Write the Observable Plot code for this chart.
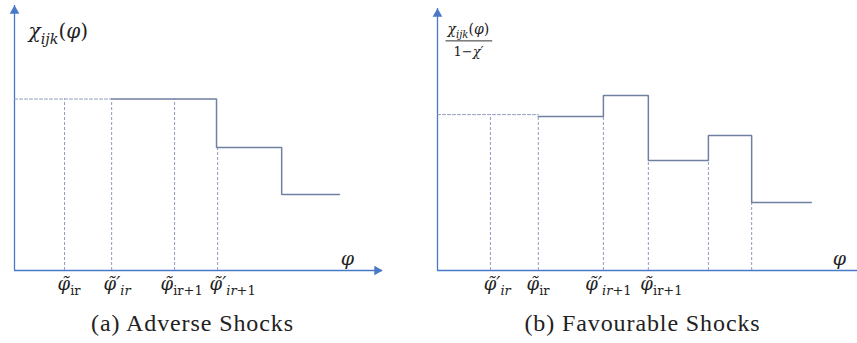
<!DOCTYPE html>
<html><head><meta charset="utf-8">
<script src="https://cdn.jsdelivr.net/npm/d3@7"></script>
<script src="https://cdn.jsdelivr.net/npm/@observablehq/plot@0.6"></script>
<style>
body{margin:0;background:#fff;}
#wrap{display:flex;width:857px;height:343px;overflow:hidden;}
#wrap svg{display:block;}
</style></head><body><div id="wrap"></div>
<script>
// ---------- Data (conceptual units, 0–100 on each axis) ----------
// Panel (a): Adverse shocks
const aBreaks = [0, 26.4, 54.9, 72.6, 88.3];      // where each level starts (last = end of line)
const aLevels = [64.7, 64.7, 46.4, 28.7];         // first level is drawn dashed
const aDashX = [13.6, 26.4, 43.5, 55.2];          // dashed guide positions
const aTickX = [11.7, 24.2, 39.7, 53.0];          // tick label positions
const aTickLabels = ["φ̃_[ir]", "φ̃′_{ir}", "φ̃_[ir+1]", "φ̃′_{ir}_[+1]"];
const aYLabel = "χ_{ijk}[(]φ[)]";
const aCaption = "(a) Adverse Shocks";

// Panel (b): Favourable shocks
const bBreaks = [0, 24.0, 39.5, 50.2, 64.5, 74.8, 89.0];
const bLevels = [59.5, 58.8, 66.8, 42.0, 51.5, 26.0];
const bDashX = [12.6, 24.0, 39.5, 50.2, 64.5, 74.8];
const bTickX = [11.0, 21.2, 35.2, 48.3];
const bTickLabels = ["φ̃′_{ir}", "φ̃_[ir]", "φ̃′_{ir}_[+1]", "φ̃_[ir+1]"];
const bYNum = "χ_{ijk}[(]φ[)]";
const bYDen = "[1−]χ′";
const bCaption = "(b) Favourable Shocks";

const xAxisLabel = "φ";

// ---------- Styles ----------
const AXIS = "#4a78c8";
const STEP = "#7080a2";
const DASH = "#8e9cc0";
const MATH = "DejaVu Serif";
const CAPF = "Liberation Serif";

function topAt(x, breaks, levels) {
  for (let i = 1; i < breaks.length - 1; i++) {
    if (Math.abs(x - breaks[i]) < 0.7) return Math.min(levels[i - 1], levels[i]);
  }
  for (let i = 0; i < levels.length; i++) {
    if (x >= breaks[i] && x < breaks[i + 1]) return levels[i];
  }
  return levels[levels.length - 1];
}

function panel(o) {
  const {breaks, levels} = o;
  const dashedStart = [{x: breaks[0], y: levels[0]}, {x: breaks[1], y: levels[0]}];
  const solid = levels.slice(1).map((v, i) => ({x: breaks[i + 1], y: v}));
  solid.push({x: breaks[breaks.length - 1], y: levels[levels.length - 1]});

  const marks = [
    Plot.ruleX([0], {y1: 0, y2: 100, stroke: AXIS, strokeWidth: 1.3}),
    Plot.ruleY([0], {x1: 0, x2: 100, stroke: AXIS, strokeWidth: 1.3}),
    Plot.dot([0], {x: d => d, y: () => 100, symbol: "triangle", r: 3.6, fill: AXIS, stroke: "none", dy: 5.4}),
    Plot.ruleX(o.dashX, {x: d => d, y1: () => 0, y2: d => topAt(d, breaks, levels), stroke: DASH, strokeWidth: 1, strokeDasharray: "3,2"}),
    Plot.line(dashedStart, {x: "x", y: "y", stroke: DASH, strokeWidth: 1, strokeDasharray: "3,2"}),
    Plot.line(solid, {x: "x", y: "y", curve: "step-after", stroke: STEP, strokeWidth: 1.5, strokeLinejoin: "miter"}),
    Plot.text(o.tickLabels, {x: (d, i) => o.tickX[i], y: () => 0, text: d => d, dy: 19, lineAnchor: "bottom", textAnchor: "start", fontFamily: MATH, fontSize: 18, fill: "#222"}),
    Plot.text([xAxisLabel], {frameAnchor: "bottom-right", text: d => d, dx: o.phiDx, dy: -12, lineAnchor: "middle", textAnchor: "middle", fontFamily: MATH, fontStyle: "italic", fontSize: 19, fill: "#222"}),
    Plot.text([o.caption], {frameAnchor: "bottom", text: d => d, dx: o.capDx, dy: 53, lineAnchor: "middle", textAnchor: "middle", fontFamily: CAPF, fontSize: 24, fill: "#222"})
  ];
  if (o.arrowX) marks.push(Plot.dot([100], {x: d => d, y: () => 0, symbol: "triangle", rotate: 90, r: 3.6, fill: AXIS, stroke: "none", dx: -5.4}));
  if (o.yLabel) marks.push(Plot.text([o.yLabel], {frameAnchor: "top-left", text: d => d, dx: 14, dy: 26, lineAnchor: "middle", textAnchor: "start", fontFamily: MATH, fontSize: 20, fill: "#222"}));
  if (o.yNum) {
    marks.push(Plot.text([o.yNum], {frameAnchor: "top-left", text: d => d, dx: 10, dy: 21, lineAnchor: "middle", textAnchor: "start", fontFamily: MATH, fontSize: 14, fill: "#222"}));
    marks.push(Plot.text([o.yDen], {frameAnchor: "top-left", text: d => d, dx: 16, dy: 43, lineAnchor: "middle", textAnchor: "start", fontFamily: MATH, fontSize: 13, fill: "#222"}));
  }
  return Plot.plot({
    width: o.width, height: 343,
    marginLeft: o.ml, marginRight: o.mr, marginTop: o.mt, marginBottom: 73,
    x: {domain: [0, 100], axis: null},
    y: {domain: [0, 100], axis: null},
    style: {background: "white", overflow: "visible"},
    marks
  });
}

const NS = "http://www.w3.org/2000/svg";
function renderMath(svg, barFor, captions) {
  svg.querySelectorAll("text").forEach(t => {
    const s = t.textContent;
    if (captions.includes(s)) {
      t.style.fontFamily = `"${CAPF}", serif`;
      t.style.letterSpacing = "0.9px";
      return;
    }
    t.style.fontFamily = `"${MATH}", serif`;
    if (!/[_\[]/.test(s)) return;
    const base = parseFloat(getComputedStyle(t).fontSize) || 16;
    t.textContent = "";
    const re = /_\{([^}]*)\}|_\[([^\]]*)\]|\[([^\]]*)\]|([^_\[]+)/g;
    let m, shifted = false;
    while ((m = re.exec(s))) {
      const sp = document.createElementNS(NS, "tspan");
      const sub = m[1] != null || m[2] != null;
      const italic = m[1] != null || m[4] != null;
      sp.textContent = m[1] ?? m[2] ?? m[3] ?? m[4];
      if (sub && !shifted) { sp.setAttribute("dy", (base * 0.28).toFixed(1)); shifted = true; }
      else if (!sub && shifted) { sp.setAttribute("dy", (-base * 0.28).toFixed(1)); shifted = false; }
      if (sub) sp.setAttribute("font-size", (base * 0.72).toFixed(1));
      sp.setAttribute("font-style", italic ? "italic" : "normal");
      t.appendChild(sp);
    }
    if (barFor && s === barFor) {
      const b = t.getBBox();
      const line = document.createElementNS(NS, "line");
      const y = b.y + b.height + 1;
      line.setAttribute("x1", b.x - 1); line.setAttribute("x2", b.x + b.width + 3);
      line.setAttribute("y1", y); line.setAttribute("y2", y);
      line.setAttribute("stroke", "#333"); line.setAttribute("stroke-width", 1);
      line.setAttribute("transform", t.getAttribute("transform") || "");
      t.parentNode.appendChild(line);
    }
  });
}

const wrap = document.getElementById("wrap");
const svgA = panel({width: 430, ml: 14, mr: 48, mt: 5, breaks: aBreaks, levels: aLevels, dashX: aDashX,
  tickX: aTickX, tickLabels: aTickLabels, yLabel: aYLabel, caption: aCaption, arrowX: true, phiDx: -35, capDx: -6});
const svgB = panel({width: 427, ml: 7, mr: 0, mt: 8, breaks: bBreaks, levels: bLevels, dashX: bDashX,
  tickX: bTickX, tickLabels: bTickLabels, yNum: bYNum, yDen: bYDen, caption: bCaption, arrowX: false, phiDx: -18, capDx: -5});
wrap.appendChild(svgA);
wrap.appendChild(svgB);
renderMath(svgA, null, [aCaption]);
renderMath(svgB, bYNum, [bCaption]);
</script>
</body></html>
